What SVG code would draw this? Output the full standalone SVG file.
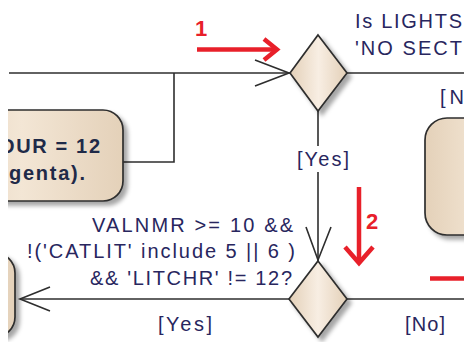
<svg xmlns="http://www.w3.org/2000/svg" width="464" height="342" viewBox="0 0 464 342">
<style>
.lbl{font-family:"Liberation Sans",Arial,sans-serif;font-size:20px;fill:#28265e}
.box-t{font-family:"Liberation Sans",Arial,sans-serif;font-size:20px;font-weight:bold;fill:#1f2a48}
.red-t{font-family:"Liberation Sans",Arial,sans-serif;font-size:22px;font-weight:bold;fill:#e8202a}
.shape{stroke:#2e2e2e;stroke-width:1.7;filter:url(#sh)}
.conn{fill:none;stroke:#2e2e2e;stroke-width:1.6}
.red{fill:none;stroke:#e8202a;stroke-width:4.5}
</style>
<defs>
<linearGradient id="gd" x1="0" y1="0" x2="1" y2="0">
<stop offset="0" stop-color="#e3d0b8"/><stop offset="0.5" stop-color="#f8eee3"/><stop offset="1" stop-color="#e3d0b8"/>
</linearGradient>
<linearGradient id="gb" x1="0" y1="0" x2="1" y2="0">
<stop offset="0" stop-color="#e4d1b9"/><stop offset="0.5" stop-color="#f3e6d5"/><stop offset="1" stop-color="#e4d1b9"/>
</linearGradient>
<filter id="sh" x="-20%" y="-20%" width="150%" height="150%">
<feDropShadow dx="4" dy="4" stdDeviation="2" flood-color="#000" flood-opacity="0.35"/>
</filter>
<clipPath id="clip"><rect x="8" y="0" width="456" height="342"/></clipPath>
</defs>
<g clip-path="url(#clip)">
<g id="connectors">
<polyline class="conn" points="9,73 290,73"/>
<polyline class="conn" points="123,162 174,162 174,73"/>
<polyline class="conn" points="255,60 289,73 255,86"/>
<polyline class="conn" points="347,73 464,73"/>
<polyline class="conn" points="318,111 318,261"/>
<polyline class="conn" points="306,227 318,260 331,227"/>
<polyline class="conn" points="289,299 20,299"/>
<polyline class="conn" points="50,287 20,299 50,311"/>
<polyline class="conn" points="347,299 464,299"/>
</g>
<g id="box-left-top">
<rect class="shape" x="-80" y="110" width="203" height="91" rx="20" fill="url(#gb)"/>
<text class="box-t" x="-1" y="153" textLength="101" lengthAdjust="spacing">OUR = 12</text>
<text class="box-t" x="9" y="180" textLength="76" lengthAdjust="spacing">genta).</text>
</g>
<g id="box-left-bottom">
<rect class="shape" x="-100" y="253" width="115" height="84" rx="20" fill="url(#gb)"/>
</g>
<g id="box-right">
<rect class="shape" x="425" y="118" width="120" height="117" rx="22" fill="url(#gb)"/>
</g>
<g id="decision-1">
<polygon class="shape" points="318,35 347,73 318,111 290,73" fill="url(#gd)"/>
<text class="lbl" x="355" y="28" textLength="107" lengthAdjust="spacing">Is LIGHTS</text>
<text class="lbl" x="355" y="55" textLength="107" lengthAdjust="spacing">'NO SECT</text>
</g>
<g id="decision-2">
<polygon class="shape" points="318,261 347,299 318,337 289,299" fill="url(#gd)"/>
<text class="lbl" x="92" y="232" textLength="201" lengthAdjust="spacing">VALNMR &gt;= 10 &amp;&amp;</text>
<text class="lbl" x="27" y="258" textLength="268" lengthAdjust="spacing">!('CATLIT' include 5 || 6 )</text>
<text class="lbl" x="90" y="285" textLength="202" lengthAdjust="spacing">&amp;&amp; 'LITCHR' != 12?</text>
</g>
<g id="labels">
<rect x="296" y="146" width="55" height="26" fill="#fff"/>
<text class="lbl" x="297" y="166" textLength="52" lengthAdjust="spacing">[Yes]</text>
<text class="lbl" x="440" y="104" textLength="24" lengthAdjust="spacing">[N</text>
<text class="lbl" x="158" y="331" textLength="54" lengthAdjust="spacing">[Yes]</text>
<text class="lbl" x="405" y="331" textLength="40" lengthAdjust="spacing">[No]</text>
</g>
<g id="annotations">
<polyline class="red" points="197,49.5 274,49.5"/>
<polyline class="red" points="264,39 277,49.5 264,60"/>
<text class="red-t" x="195" y="36">1</text>
<polyline class="red" points="359,187 359,261"/>
<polyline class="red" points="345,247 359,263 373,247"/>
<text class="red-t" x="366" y="229">2</text>
<polyline class="red" points="430,278.5 464,278.5"/>
</g>
</g>
</svg>
